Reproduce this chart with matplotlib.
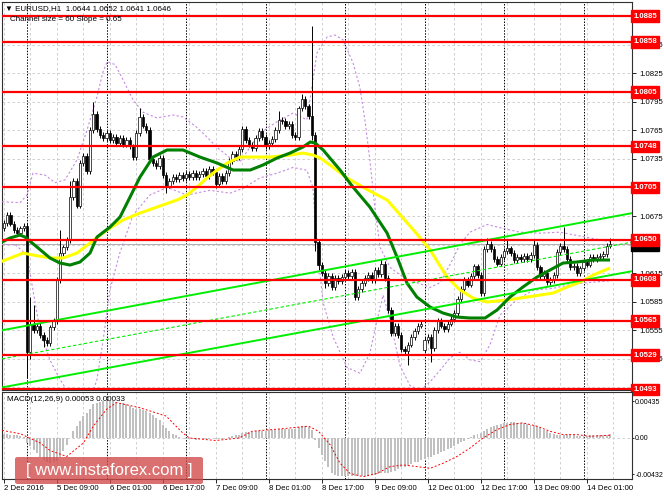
import matplotlib
matplotlib.use("Agg")
import matplotlib.pyplot as plt
import matplotlib.transforms as mtransforms
from matplotlib.patches import FancyBboxPatch
import numpy as np

# bar index: hours from 5 Dec 2016 00:00, weekend hours skipped (H1 chart)
FIRST_BAR = -7
FIRST_OPEN = 1.0662
CLOSES = [
    # 2 Dec 17:00 .. 23:00
    1.0668, 1.0676, 1.0667, 1.0660, 1.0657, 1.0662, 1.0665,
    # 5 Dec
    1.0532, 1.0562, 1.0555, 1.0560, 1.0550, 1.0545, 1.0542, 1.0558,
    1.0565, 1.0608, 1.0636, 1.0642, 1.0650, 1.0695, 1.0712, 1.0686,
    1.0731, 1.0738, 1.0722, 1.0765, 1.0782, 1.0766, 1.0760, 1.0757,
    # 6 Dec
    1.0762, 1.0755, 1.0758, 1.0752, 1.0757, 1.0750, 1.0755, 1.0748,
    1.0737, 1.0762, 1.0779, 1.0770, 1.0765, 1.0735, 1.0731, 1.0727,
    1.0736, 1.0718, 1.0707, 1.0712, 1.0716, 1.0714, 1.0718, 1.0715,
    # 7 Dec
    1.0719, 1.0716, 1.0720, 1.0716, 1.0719, 1.0722, 1.0717, 1.0724,
    1.0721, 1.0709, 1.0717, 1.0712, 1.0720, 1.0733, 1.0740, 1.0737,
    1.0745, 1.0766, 1.0755, 1.0750, 1.0746, 1.0757, 1.0764, 1.0758,
    # 8 Dec
    1.0748, 1.0752, 1.0756, 1.0765, 1.0776, 1.0775, 1.0769, 1.0772,
    1.0760, 1.0758, 1.0788, 1.0798, 1.0790, 1.0780, 1.0760, 1.0648,
    1.0624, 1.0615, 1.0605, 1.0612, 1.0600, 1.0610, 1.0607, 1.0611,
    # 9 Dec
    1.0615, 1.0612, 1.0616, 1.0590, 1.0598, 1.0605, 1.0610, 1.0613,
    1.0608, 1.0618, 1.0614, 1.0625, 1.0610, 1.0576, 1.0552, 1.0560,
    1.0550, 1.0535, 1.0533, 1.0540, 1.0548, 1.0554, 1.0560, 1.0562,
    # 12 Dec
    1.0545, 1.0548, 1.0536, 1.0555, 1.0565, 1.0560, 1.0556, 1.0562,
    1.0567, 1.0573, 1.0588, 1.0598, 1.0608, 1.0603, 1.0612, 1.0622,
    1.0613, 1.0594, 1.0640, 1.0646, 1.0640, 1.0630, 1.0625, 1.0632,
    # 13 Dec
    1.0638, 1.0641, 1.0636, 1.0629, 1.0632, 1.0630, 1.0633, 1.0630,
    1.0634, 1.0645, 1.0621, 1.0612, 1.0615, 1.0606, 1.0608, 1.0613,
    1.0637, 1.0644, 1.0640, 1.0630, 1.0621, 1.0623, 1.0615, 1.0620,
    # 14 Dec
    1.0627, 1.0624, 1.0632, 1.0630, 1.0632, 1.0633, 1.0635, 1.0644, 1.0646,
]
GAP_OPENS = {120: 1.0534}
# wick lengths in pips, where they differ from the usual ~3
UPPER_WICK = {0: 3, 1: 28, 2: 20, 10: 24, 13: 17, 20: 13, 34: 9, 76: 9, 83: 5,
              86: 94, 107: 5, 139: 6, 145: 9, 153: 5, 162: 19, 176: 6}
LOWER_WICK = {0: 27, 1: 7, 5: 8, 42: 8, 57: 5, 86: 5, 87: 10, 88: 6, 90: 6,
              115: 14, 122: 14, 176: 3}
DEFAULT_WICK = 3

LEVELS = [1.0885, 1.0858, 1.0805, 1.0748, 1.0705, 1.0650, 1.0608, 1.0565, 1.0529, 1.0493]
LAST_PRICE = 1.0646
PRICE_TICKS = [1.0855, 1.0825, 1.0795, 1.0765, 1.0735, 1.0705, 1.0675, 1.0645,
               1.0615, 1.0585, 1.0555, 1.0525, 1.0495]
# tick labels fully covered by the level / price boxes in the reference
HIDDEN_TICKS = [1.0705, 1.0645, 1.0495]

# regression channel end points
CHANNEL_T = [-7.55, 182.6]
CHANNEL_UP = [1.0555, 1.0678]
CHANNEL_LO = [1.0495, 1.0617]

# moving averages (bar index, price)
GREEN_T = [-8.15, -5.13, -2.11, -0.6, 3.02, 6.94, 9.96, 12.98, 16.0, 19.02, 21.13,
           25.06, 28.08, 31.1, 34.11, 38.04, 42.26, 47.1, 52.2, 57.4, 62.2, 67.4,
           71.2, 75.5, 79.4, 83.3, 85.5, 87.0, 89.4, 94.5, 98.4, 103.5, 108.7,
           111.7, 114.7, 117.7, 121.7, 125.6, 129.8, 133.7, 138.3, 141.9, 145.8,
           149.7, 153.96, 157.9, 161.8, 166.0, 170.9, 176.0]
GREEN_P = [1.06466, 1.06519, 1.06550, 1.06529, 1.06424, 1.06309, 1.06256, 1.06235,
           1.06267, 1.06361, 1.06529, 1.06634, 1.06739, 1.06949, 1.07159, 1.07369,
           1.07443, 1.07443, 1.07369, 1.07306, 1.07233, 1.07233, 1.07285, 1.07359,
           1.07411, 1.07474, 1.07527, 1.07516, 1.07443, 1.07233, 1.07054, 1.06844,
           1.06571, 1.06319, 1.06046, 1.05899, 1.05794, 1.05731, 1.05689, 1.05679,
           1.05679, 1.05763, 1.05899, 1.06004, 1.06109, 1.06183, 1.06256, 1.06267,
           1.06288, 1.06288]
YELLOW_T = [-8.15, -4.23, -1.21, 1.81, 6.94, 10.87, 15.09, 19.02, 24.15, 28.98,
            34.11, 39.25, 45.28, 48.3, 51.3, 54.3, 57.4, 60.4, 64.3, 67.3, 73.4,
            79.4, 83.3, 86.3, 88.5, 91.5, 96.6, 103.5, 108.7, 113.5, 117.7, 121.7,
            126.8, 130.7, 134.6, 138.9, 144.9, 150.9, 154.9, 158.8, 163.0, 167.0,
            170.9, 176.0]
YELLOW_P = [1.06267, 1.06319, 1.06361, 1.06340, 1.06309, 1.06309, 1.06361, 1.06466,
            1.06603, 1.06708, 1.06781, 1.06844, 1.06918, 1.06970, 1.07054, 1.07149,
            1.07233, 1.07306, 1.07369, 1.07369, 1.07369, 1.07390, 1.07411, 1.07390,
            1.07359, 1.07285, 1.07149, 1.07012, 1.06918, 1.06729, 1.06561, 1.06393,
            1.06109, 1.05973, 1.05889, 1.05847, 1.05868, 1.05899, 1.05920, 1.05941,
            1.06004, 1.06057, 1.06130, 1.06204]

# bands (violet dashed)
BAND_UP_T = [-7.5, -2.1, 0.0, 1.8, 5.4, 8.5, 11.5, 15.1, 18.1, 21.1, 22.9, 24.2,
             26.6, 29.0, 32.0, 35.0, 39.2, 44.1, 47.1, 51.3, 54.3, 57.4, 61.3,
             64.3, 70.3, 75.5, 80.3, 84.5, 86.0, 87.5, 90.6, 93.0, 95.4, 98.4,
             100.5, 102.0, 103.5, 105.0, 106.6, 109.6, 113.5, 117.7, 121.7, 124.7,
             127.7, 130.7, 133.7, 138.9, 143.7, 148.8, 154.9, 160.9, 165.4, 170.0,
             176.0]
BAND_UP_P = [1.0690, 1.0689, 1.0697, 1.0720, 1.0718, 1.0710, 1.0713, 1.0734, 1.0765,
             1.0800, 1.0826, 1.0837, 1.0834, 1.0818, 1.0797, 1.0784, 1.0778, 1.0781,
             1.0779, 1.0768, 1.0758, 1.0747, 1.0736, 1.0732, 1.0762, 1.0774, 1.0783,
             1.0776, 1.0810, 1.0846, 1.0863, 1.0865, 1.0860, 1.0836, 1.0810, 1.0776,
             1.0734, 1.0684, 1.0642, 1.0621, 1.0611, 1.0605, 1.0600, 1.0605, 1.0624,
             1.0645, 1.0658, 1.0666, 1.0662, 1.0658, 1.0657, 1.0658, 1.0655, 1.0652,
             1.0648]
BAND_LO_T = [-7.55, -3.6, 0.0, 1.8, 3.9, 6.9, 10.0, 13.0, 16.0, 19.0, 21.1, 23.0,
             25.0, 28.0, 32.0, 37.1, 42.3, 48.3, 55.2, 61.3, 65.2, 70.3, 75.5, 80.3,
             84.5, 86.3, 87.8, 89.4, 92.4, 96.6, 100.5, 103.5, 105.7, 107.5, 109.6,
             112.6, 115.6, 118.6, 121.7, 124.7, 127.7, 130.7, 133.7, 136.8, 139.8,
             142.8, 147.9, 152.8, 158.8, 163.9, 169.1, 176.0]
BAND_LO_P = [1.0645, 1.0645, 1.0634, 1.0597, 1.0555, 1.0524, 1.0503, 1.0487, 1.0477,
             1.0482, 1.0503, 1.0545, 1.0597, 1.0636, 1.0676, 1.0697, 1.0705, 1.0697,
             1.0702, 1.0699, 1.0704, 1.0715, 1.0720, 1.0726, 1.0723, 1.0705, 1.0636,
             1.0584, 1.0548, 1.0516, 1.0510, 1.0531, 1.0566, 1.0592, 1.0566, 1.0518,
             1.0497, 1.0492, 1.0501, 1.0513, 1.0526, 1.0532, 1.0524, 1.0522, 1.0540,
             1.0571, 1.0587, 1.0597, 1.0599, 1.0603, 1.0605, 1.0607]

# MACD main line per bar (units of 0.0001)
MACD_HIST = [
    5, 5, 4, 4, 3, 2, 1,
    -6, -10, -14, -18, -22, -26, -28, -30, -29, -27, -22, -16, -8, 0, 8, 14,
    20, 26, 30, 35, 40, 42, 43, 44,
    44, 44, 44, 43, 42, 41, 40, 38, 36, 35, 34, 33, 32, 30, 27, 24,
    21, 16, 12, 8, 5, 3, 1, 0,
    -1, -1, -1, -2, -1, -1, -1, -1, 0, -1, -1, -1, 0, 1, 2, 3,
    4, 6, 7, 7, 7, 8, 8, 8,
    8, 9, 9, 10, 11, 11, 11, 11, 11, 11, 13, 14, 14, 13, 10, -2,
    -12, -20, -27, -35, -41, -44, -45, -45,
    -45, -45, -45, -45, -45, -45, -45, -45, -44, -44, -43, -42, -41, -41, -40, -39,
    -37, -35, -34, -33, -31, -29, -28, -26,
    -25, -23, -22, -20, -19, -17, -15, -13, -12, -10, -7, -5, -3, -1, 1, 3,
    5, 6, 8, 11, 13, 14, 15, 17,
    18, 18, 19, 19, 18, 18, 18, 17, 16, 16, 14, 12, 10, 8, 6, 5,
    4, 4, 4, 4, 3, 3, 2, 2,
    2, 2, 3, 3, 3, 3, 4, 4, 5,
]
SIGNAL_T = [-7.5, -2, 4, 7, 12, 17, 20, 24, 27, 34, 42, 47, 49, 57, 64, 68, 77, 85,
            88, 91.5, 94.5, 97.5, 101.5, 105.7, 109.6, 113.6, 117.7, 121.7, 125.6,
            129.8, 133.7, 137.7, 141.9, 145.8, 149.7, 153.9, 157.9, 161.8, 166, 170,
            176]
SIGNAL_V = [9, 5, -6, -15, -22, -6, 14, 34, 42, 36, 26, 6, 0, -3, 0, 8, 11, 14, 8,
            -8, -30, -42, -46, -42, -34, -32, -34, -36, -30, -22, -12, 0, 10, 16, 18,
            14, 8, 4, 4, 2, 3.3]
MACD_TICKS = [0.00435, 0.0, -0.00432]
MACD_TICK_LABELS = ["0.00435", "0.00", "-0.00432"]

LABEL_T = [-7, 9, 25, 41, 57, 73, 89, 105, 121, 137, 153, 169]
LABELS = ["2 Dec 2016", "5 Dec 09:00", "6 Dec 01:00", "6 Dec 17:00", "7 Dec 09:00",
          "8 Dec 01:00", "8 Dec 17:00", "9 Dec 09:00", "12 Dec 01:00", "12 Dec 17:00",
          "13 Dec 09:00", "14 Dec 01:00"]

FONT = "Liberation Sans"
plt.rcParams["font.family"] = [FONT, "DejaVu Sans"]

W, H = 664, 498
fig = plt.figure(figsize=(W / 100, H / 100), dpi=100)
ax = fig.add_axes([2 / W, 108 / H, 630 / W, 388 / H])
mx = fig.add_axes([2 / W, 19 / H, 630 / W, 87 / H], sharex=ax)

# ─── candles ──────────────────────────────
closes = np.array(CLOSES)
t = np.arange(FIRST_BAR, FIRST_BAR + len(closes))
opens = np.concatenate([[FIRST_OPEN], closes[:-1]])
for k, v in GAP_OPENS.items():
    opens[k - FIRST_BAR] = v
up_w = np.array([UPPER_WICK.get(int(i), DEFAULT_WICK) for i in t]) * 1e-4
lo_w = np.array([LOWER_WICK.get(int(i), DEFAULT_WICK) for i in t]) * 1e-4
highs = np.maximum(opens, closes) + up_w
lows = np.minimum(opens, closes) - lo_w
bull = closes >= opens

ax.vlines(t, lows, highs, color="black", lw=0.7, zorder=4)
body = np.maximum(np.abs(closes - opens), 0.00006)
ax.bar(t[bull], body[bull], bottom=opens[bull], width=0.7, color="white",
       edgecolor="black", lw=0.5, zorder=5)
ax.bar(t[~bull], body[~bull], bottom=closes[~bull], width=0.7, color="black",
       edgecolor="black", lw=0.5, zorder=5)

# ─── overlays ──────────────────────────────
ax.plot(BAND_UP_T, BAND_UP_P, color="#c58be0", lw=0.8, ls=(0, (2, 2)), zorder=3)
ax.plot(BAND_LO_T, BAND_LO_P, color="#c58be0", lw=0.8, ls=(0, (2, 2)), zorder=3)
ax.plot(YELLOW_T, YELLOW_P, color="#ffff00", lw=2.2, zorder=6, solid_capstyle="butt")
ax.plot(GREEN_T, GREEN_P, color="#008000", lw=2.2, zorder=6, solid_capstyle="butt")
ax.plot(CHANNEL_T, CHANNEL_UP, color="#00ee00", lw=1.4, zorder=6)
ax.plot(CHANNEL_T, CHANNEL_LO, color="#00ee00", lw=1.4, zorder=6)
ax.plot(CHANNEL_T, [(a + b) / 2 for a, b in zip(CHANNEL_UP, CHANNEL_LO)],
        color="#00ee00", lw=0.8, ls=(0, (3, 2)), zorder=6)
ax.axhline(LAST_PRICE, color="#b0b0b0", lw=0.7, zorder=2)
for lvl in LEVELS:
    ax.axhline(lvl, color="#ff0000", lw=1.6, zorder=7)

# ─── grid & separators ──────────────────────────────
xmin, xmax = -7.55, 182.64
for a in (ax, mx):
    for g in range(-7, 183, 8):
        a.axvline(g, color="#c8c8c8", lw=0.6, ls=(0, (3, 3)), zorder=1)
    for d in range(0, 183, 24):
        a.axvline(d, color="black", lw=0.7, ls=(0, (1.5, 1.5)), zorder=1)
for p in PRICE_TICKS:
    ax.axhline(p, color="#c8c8c8", lw=0.6, ls=(0, (3, 3)), zorder=1)

ax.set_xlim(xmin, xmax)
ax.set_ylim(1.04923, 1.08997)
ax.yaxis.tick_right()
ax.set_yticks(PRICE_TICKS)
ax.set_yticklabels(["" if p in HIDDEN_TICKS else f"{p:.4f}" for p in PRICE_TICKS])
ax.tick_params(axis="y", labelsize=5.6, length=3, pad=2, width=0.6)
ax.tick_params(axis="x", bottom=False, labelbottom=False)

trans = mtransforms.blended_transform_factory(ax.transAxes, ax.transData)
ax.text(1.002, LAST_PRICE - 0.00012, f"{LAST_PRICE:.4f}", transform=trans, ha="left",
        va="center", fontsize=5.6, color="white", clip_on=False, zorder=9,
        bbox=dict(boxstyle="square,pad=0.3", fc="black", ec="black"))
for lvl in LEVELS:
    ax.text(1.002, lvl, f"{lvl:.4f}", transform=trans, ha="left", va="center",
            fontsize=5.6, color="white", fontweight="bold", clip_on=False, zorder=10,
            bbox=dict(boxstyle="square,pad=0.3", fc="#ff0000", ec="#ff0000"))

ax.text(0.004, 0.993, "\u25bc EURUSD,H1  1.0644 1.0652 1.0641 1.0646",
        transform=ax.transAxes, ha="left", va="top", fontsize=5.8, zorder=11)
ax.text(0.012, 0.963, "Channel size = 60 Slope = 0.65", transform=ax.transAxes,
        ha="left", va="top", fontsize=5.8, zorder=11)

# ─── MACD ──────────────────────────────
mx.bar(t, np.array(MACD_HIST) * 1e-4, width=0.6, color="#c0c0c0", zorder=3)
mx.plot(SIGNAL_T, np.array(SIGNAL_V) * 1e-4, color="#ff0000", lw=0.7,
        ls=(0, (2, 2)), zorder=4)
mx.axhline(0, color="#c8c8c8", lw=0.6, ls=(0, (3, 3)), zorder=1)
mx.set_ylim(-0.00487, 0.00546)
mx.yaxis.tick_right()
mx.set_yticks(MACD_TICKS)
mx.set_yticklabels(MACD_TICK_LABELS)
mx.tick_params(axis="y", labelsize=5.0, length=1.5, pad=0.8, width=0.6)
mx.set_xticks(LABEL_T)
mx.set_xticklabels(LABELS, ha="left")
mx.tick_params(axis="x", labelsize=5.6, length=3, pad=1.5, width=0.6)
mx.text(0.008, 0.95, "MACD(12,26,9) 0.00053 0.00033", transform=mx.transAxes,
        ha="left", va="top", fontsize=5.8, zorder=11)

for a in (ax, mx):
    for s in a.spines.values():
        s.set_color("#303030")
        s.set_linewidth(0.8)

# ─── watermark ──────────────────────────────
fig.patches.append(FancyBboxPatch((15 / W, 14 / H), 188 / W, 27 / H,
                                  boxstyle="round,pad=0,rounding_size=0.004",
                                  transform=fig.transFigure, fc="#d24848",
                                  ec="none", alpha=0.78, zorder=20))
fig.text(109 / W, 27.5 / H, "[ www.instaforex.com ]", ha="center", va="center",
         color="white", fontsize=12, zorder=21)

fig.savefig("out.png", dpi=100)
